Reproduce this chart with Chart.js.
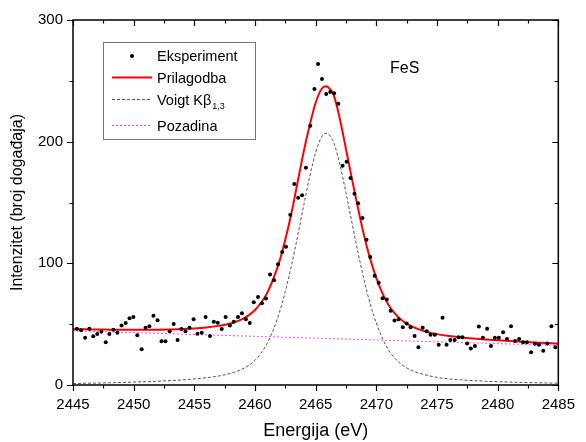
<!DOCTYPE html>
<html>
<head>
<meta charset="utf-8">
<script src="https://cdn.jsdelivr.net/npm/chart.js@4.4.1/dist/chart.umd.min.js"></script>
<style>
  html, body { margin: 0; padding: 0; background: #fff; }
</style>
</head>
<body>
<canvas id="chart" width="586" height="442"></canvas>
<script>
// measured points (eV, counts)
const energies = [
  2445.32, 2445.67, 2446.00, 2446.35, 2446.67, 2447.00, 2447.34, 2447.70, 2448.00, 2448.34,
  2448.66, 2449.00, 2449.34, 2449.66, 2449.98, 2450.30, 2450.66, 2450.98, 2451.30, 2451.63,
  2451.97, 2452.30, 2452.62, 2452.97, 2453.30, 2453.62, 2453.94, 2454.27, 2454.60, 2454.94,
  2455.26, 2455.61, 2455.93, 2456.29, 2456.61, 2456.93, 2457.26, 2457.58, 2457.93, 2458.25,
  2458.60, 2458.92, 2459.25, 2459.57, 2459.90, 2460.25, 2460.57, 2460.90, 2461.24, 2461.57,
  2461.90, 2462.24, 2462.56, 2462.91, 2463.24, 2463.56, 2463.88, 2464.20, 2464.56, 2464.90,
  2465.20, 2465.52, 2465.87, 2466.20, 2466.52, 2466.87, 2467.22, 2467.55, 2467.87, 2468.20,
  2468.50, 2468.86, 2469.19, 2469.50, 2469.86, 2470.19, 2470.52, 2470.86, 2471.18, 2471.50,
  2471.83, 2472.18, 2472.50, 2472.82, 2473.15, 2473.47, 2473.82, 2474.15, 2474.47, 2474.82,
  2475.14, 2475.46, 2475.79, 2476.10, 2476.46, 2476.78, 2477.10, 2477.48, 2477.79, 2478.13,
  2478.45, 2478.78, 2479.13, 2479.45, 2479.77, 2480.10, 2480.45, 2480.77, 2481.10, 2481.44,
  2481.77, 2482.10, 2482.42, 2482.76, 2483.08, 2483.41, 2483.76, 2484.09, 2484.43, 2484.76
];
const counts = [
  46.3, 45.0, 38.9, 46.3, 40.0, 41.9, 43.8, 35.1, 41.9, 45.5,
  43.0, 49.0, 51.0, 54.8, 55.9, 40.8, 29.3, 47.1, 48.2, 57.0,
  53.2, 35.9, 36.0, 44.1, 50.1, 37.0, 46.0, 44.1, 47.1, 54.0,
  42.2, 43.0, 55.9, 40.3, 52.0, 51.2, 46.0, 55.9, 49.0, 52.0,
  55.9, 58.9, 54.0, 51.0, 68.0, 72.3, 67.1, 71.0, 90.8, 86.0,
  99.2, 109.3, 113.7, 140.0, 165.2, 154.0, 155.9, 178.6, 213.1, 243.3,
  263.8, 251.5, 239.2, 240.8, 239.7, 231.2, 180.2, 183.5, 170.1, 157.2,
  149.3, 137.3, 119.4, 105.2, 89.8, 84.1, 71.3, 70.3, 61.1, 53.1,
  54.1, 47.4, 50.5, 47.4, 40.3, 31.0, 47.1, 44.1, 41.2, 41.2,
  33.0, 55.3, 33.0, 37.0, 37.0, 39.2, 39.2, 34.1, 30.1, 32.1,
  48.1, 38.9, 46.3, 32.1, 38.9, 38.9, 43.3, 37.9, 48.3, 36.2,
  37.9, 35.1, 35.1, 27.0, 34.0, 33.1, 28.2, 34.1, 48.2, 31.0
];

// fitted curves
const curveE = [
  2445, 2446, 2447, 2448, 2449, 2450, 2451, 2452, 2453, 2454,
  2455, 2456, 2457, 2458, 2459, 2459.5, 2460, 2460.5, 2461, 2461.5,
  2462, 2462.5, 2463, 2463.5, 2464, 2464.5, 2465, 2465.5, 2465.85, 2466.2,
  2466.5, 2467, 2467.5, 2468, 2468.5, 2469, 2469.5, 2470, 2470.5, 2471,
  2471.5, 2472, 2472.5, 2473, 2474, 2475, 2476, 2477, 2478, 2479,
  2480, 2481, 2482, 2483, 2484, 2485
];
const fitI = [
  45.9, 45.8, 45.6, 45.5, 45.4, 45.4, 45.4, 45.5, 45.7, 46.0,
  46.5, 47.3, 48.6, 50.6, 54.3, 57.4, 61.6, 67.6, 75.5, 87.0,
  101.0, 119.5, 141.0, 166.0, 191.0, 213.0, 232.0, 243.5, 245.5, 243.0,
  238.0, 218.5, 194.0, 169.0, 145.0, 122.5, 103.5, 88.0, 75.5, 66.0,
  59.0, 54.0, 50.5, 47.8, 44.1, 41.8, 40.2, 39.1, 38.2, 37.4,
  36.7, 36.1, 35.5, 35.0, 34.5, 34.0
];
const voigtI = [
  1.2, 1.4, 1.6, 1.8, 2.1, 2.4, 2.7, 3.1, 3.6, 4.2,
  5.0, 6.0, 7.4, 9.6, 13.3, 16.2, 20.3, 26.1, 34.2, 45.1,
  59.3, 77.0, 98.0, 121.7, 146.8, 170.9, 191.1, 204.0, 206.9, 204.6,
  199.0, 181.0, 158.0, 133.0, 108.5, 86.0, 66.5, 51.0, 38.5, 29.0,
  22.3, 17.5, 14.1, 11.6, 8.4, 6.3, 5.0, 4.2, 3.6, 3.1,
  2.7, 2.4, 2.1, 1.9, 1.7, 1.5
];
const bgE = [2445, 2485];
const bgI = [44.5, 32.5];

const xTicks = [2445, 2450, 2455, 2460, 2465, 2470, 2475, 2480, 2485];
const yTicks = [0, 100, 200, 300];

const FONT = "Arial, 'Liberation Sans', sans-serif";

const pairs = (xs, ys) => xs.map((v, i) => ({ x: v, y: ys[i] }));

// box frame with inner/outer ticks like the original plot
const frameTicks = {
  id: 'frameTicks',
  afterDatasetsDraw(chart) {
    const { ctx, chartArea: a, scales: { x, y } } = chart;
    ctx.save();
    ctx.strokeStyle = '#000';
    ctx.lineWidth = 1.5;
    ctx.strokeRect(a.left, a.top, a.right - a.left, a.bottom - a.top);
    ctx.lineWidth = 1.2;
    ctx.beginPath();
    for (let v = x.min; v <= x.max + 0.01; v += 2.5) {
      const px = Math.round(x.getPixelForValue(v)) + 0.5;
      const len = (Math.abs(v % 5) < 0.01) ? 6 : 3.5;
      ctx.moveTo(px, a.bottom); ctx.lineTo(px, a.bottom + len);
      ctx.moveTo(px, a.top); ctx.lineTo(px, a.top + len);
    }
    for (let v = y.min; v <= y.max + 0.01; v += 50) {
      const py = Math.round(y.getPixelForValue(v)) + 0.5;
      const len = (v % 100 === 0) ? 6 : 3.5;
      ctx.moveTo(a.left, py); ctx.lineTo(a.left - len, py);
      ctx.moveTo(a.right, py); ctx.lineTo(a.right - len, py);
    }
    ctx.stroke();

    ctx.fillStyle = '#000';
    ctx.font = '16px ' + FONT;
    ctx.textBaseline = 'middle';
    ctx.fillText('FeS', 390, 69);
    ctx.restore();
  }
};

// legend box in the upper left
const boxLegend = {
  id: 'boxLegend',
  afterDraw(chart) {
    const { ctx } = chart;
    const ds = chart.data.datasets;
    const bx = 103, by = 42, bw = 152, bh = 97;
    ctx.save();
    ctx.fillStyle = '#fff';
    ctx.fillRect(bx, by, bw, bh);
    ctx.strokeStyle = '#777';
    ctx.lineWidth = 1;
    ctx.strokeRect(bx + 0.5, by + 0.5, bw, bh);

    const rows = [57, 79, 101, 127];
    const x0 = 112, x1 = 152, tx = 157;
    ctx.font = '14.5px ' + FONT;
    ctx.textBaseline = 'middle';
    ds.forEach((d, i) => {
      const ry = rows[i];
      if (d.showLine) {
        ctx.strokeStyle = d.borderColor;
        ctx.lineWidth = d.borderWidth;
        ctx.setLineDash(d.borderDash || []);
        ctx.beginPath();
        ctx.moveTo(x0, ry - 1.5); ctx.lineTo(x1, ry - 1.5);
        ctx.stroke();
        ctx.setLineDash([]);
      } else {
        ctx.fillStyle = d.backgroundColor;
        ctx.beginPath();
        ctx.arc((x0 + x1) / 2, ry - 1, d.pointRadius, 0, Math.PI * 2);
        ctx.fill();
      }
      ctx.fillStyle = '#000';
      ctx.fillText(d.label, tx, ry);
      if (d.sub) {
        const w = ctx.measureText(d.label).width;
        ctx.font = '9px ' + FONT;
        ctx.fillText(d.sub, tx + w + 1, ry + 6);
        ctx.font = '14.5px ' + FONT;
      }
    });
    ctx.restore();
  }
};

new Chart(document.getElementById('chart'), {
  type: 'scatter',
  data: {
    datasets: [
      {
        label: 'Eksperiment',
        data: pairs(energies, counts),
        showLine: false,
        pointRadius: 2,
        pointHoverRadius: 2,
        backgroundColor: '#000',
        borderColor: '#000',
        borderWidth: 0
      },
      {
        label: 'Prilagodba',
        data: pairs(curveE, fitI),
        showLine: true,
        pointRadius: 0,
        borderColor: '#ff0000',
        borderWidth: 2,
        cubicInterpolationMode: 'monotone'
      },
      {
        label: 'Voigt Kβ',
        sub: '1,3',
        data: pairs(curveE, voigtI),
        showLine: true,
        pointRadius: 0,
        borderColor: '#555',
        borderWidth: 1,
        borderDash: [3, 2],
        cubicInterpolationMode: 'monotone'
      },
      {
        label: 'Pozadina',
        data: pairs(bgE, bgI),
        showLine: true,
        pointRadius: 0,
        borderColor: '#ff44ff',
        borderWidth: 1,
        borderDash: [2, 2]
      }
    ]
  },
  options: {
    responsive: false,
    animation: false,
    devicePixelRatio: 1,
    layout: { padding: { top: 20, right: 18, left: 0, bottom: 0 } },
    plugins: {
      legend: { display: false },
      tooltip: { enabled: false }
    },
    scales: {
      x: {
        type: 'linear',
        min: 2445,
        max: 2485,
        afterFit: s => { s.height = 57; },
        afterBuildTicks: s => { s.ticks = xTicks.map(v => ({ value: v })); },
        grid: { display: false, drawTicks: false },
        border: { display: false },
        ticks: {
          color: '#000', padding: 11, maxRotation: 0,
          font: { family: FONT, size: 15 },
          callback: v => String(v)
        },
        title: {
          display: true,
          text: 'Energija (eV)',
          color: '#000',
          font: { family: FONT, size: 18 },
          padding: { top: 0, bottom: 0 }
        }
      },
      y: {
        min: 0,
        max: 300,
        afterFit: s => { s.width = 73; },
        afterBuildTicks: s => { s.ticks = yTicks.map(v => ({ value: v })); },
        grid: { display: false, drawTicks: false },
        border: { display: false },
        ticks: {
          color: '#000', padding: 10,
          font: { family: FONT, size: 15 },
          callback: v => String(v)
        },
        title: {
          display: true,
          text: 'Intenzitet (broj događaja)',
          color: '#000',
          font: { family: FONT, size: 16 },
          padding: { top: 8, bottom: 0 }
        }
      }
    }
  },
  plugins: [frameTicks, boxLegend]
});
</script>
</body>
</html>
